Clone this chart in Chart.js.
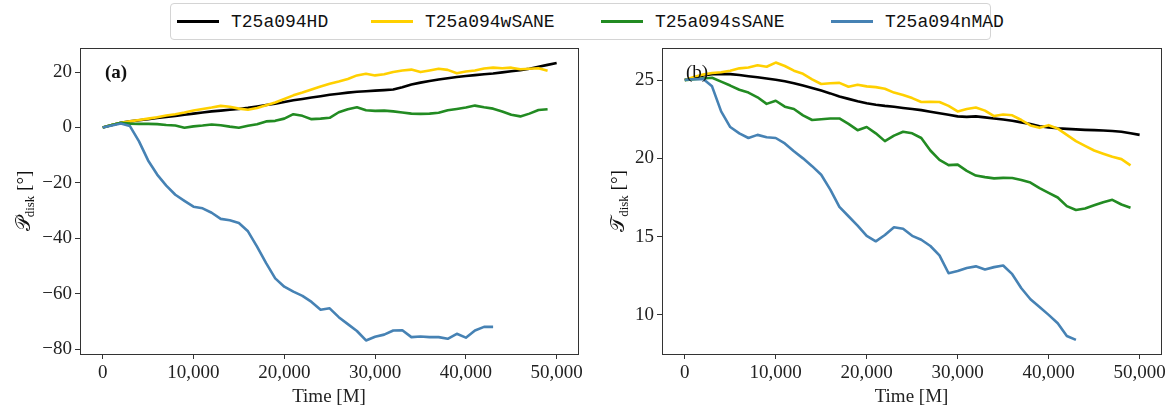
<!DOCTYPE html>
<html>
<head>
<meta charset="utf-8">
<script src="https://cdn.jsdelivr.net/npm/chart.js@4.4.1/dist/chart.umd.min.js"></script>
<style>
  html, body { margin: 0; padding: 0; background: #fff; }
  #wrap { position: relative; width: 1168px; height: 410px; overflow: hidden; }
  #wrap canvas { position: absolute; }
  #legend {
    position: absolute; left: 170px; top: 3px; width: 821px; height: 37px;
    border: 1px solid #d4d4d4; border-radius: 4px; box-sizing: border-box;
    font-family: "Liberation Mono", monospace; font-size: 18px; color: #111;
  }
  .item { position: absolute; top: 0; height: 100%; display: flex; align-items: center; }
  .swatch { width: 42px; height: 3px; margin-right: 12px; }
</style>
</head>
<body>
<div id="wrap">
  <div id="legend"></div>
  <canvas id="panelA" style="left:0;top:44px" width="584" height="366"></canvas>
  <canvas id="panelB" style="left:584px;top:44px" width="584" height="366"></canvas>
</div>
<script>
// time samples [M]
const timeM = [0, 1000, 2000, 3000, 4000, 5000, 6000, 7000, 8000, 9000,
  10000, 11000, 12000, 13000, 14000, 15000, 16000, 17000, 18000, 19000,
  20000, 21000, 22000, 23000, 24000, 25000, 26000, 27000, 28000, 29000,
  30000, 31000, 32000, 33000, 34000, 35000, 36000, 37000, 38000, 39000,
  40000, 41000, 42000, 43000, 44000, 45000, 46000, 47000, 48000, 49000, 50000];

const seriesNames = ['T25a094HD', 'T25a094wSANE', 'T25a094sSANE', 'T25a094nMAD'];
const seriesColors = ['#000000', '#ffd000', '#228b22', '#4682b4'];

// precession angle P_disk [deg]
const pHD = [0, 0.9, 1.7, 2.2, 2.6, 3.0, 3.4, 3.8, 4.2, 4.6,
  5.0, 5.4, 5.8, 6.1, 6.4, 6.7, 7.1, 7.6, 8.1, 8.6,
  9.2, 9.8, 10.3, 10.8, 11.3, 11.8, 12.2, 12.6, 12.9, 13.1,
  13.3, 13.5, 13.7, 14.5, 15.5, 16.2, 16.8, 17.3, 17.8, 18.2,
  18.6, 18.9, 19.2, 19.5, 19.9, 20.3, 20.7, 21.2, 21.9, 22.6, 23.3];
const pWSANE = [0, 0.9, 1.7, 2.2, 2.7, 3.2, 3.7, 4.3, 4.8, 5.4,
  6.1, 6.7, 7.2, 7.8, 7.5, 6.8, 6.4, 7.0, 8.0, 9.0,
  10.3, 11.6, 12.6, 13.7, 14.8, 15.8, 16.6, 17.5, 18.8, 19.4,
  18.8, 19.2, 20.0, 20.6, 20.9, 20.0, 20.6, 21.2, 20.8, 19.6,
  20.2, 20.6, 21.3, 21.6, 21.4, 21.6, 21.0, 21.2, 21.4, 20.5, null];
const pSSANE = [0, 0.9, 1.7, 1.4, 1.3, 1.3, 1.2, 0.9, 0.7, -0.1,
  0.4, 0.7, 1.1, 0.8, 0.3, -0.1, 0.6, 1.2, 2.2, 2.4,
  3.2, 4.8, 4.2, 3.0, 3.2, 3.5, 5.5, 6.6, 7.3, 6.2,
  6.0, 6.1, 5.8, 5.4, 5.0, 4.9, 5.0, 5.3, 6.2, 6.7,
  7.2, 7.9, 7.3, 6.8, 5.8, 4.6, 4.0, 5.0, 6.3, 6.6, null];
const pNMAD = [0, 0.7, 1.4, 0.5, -5.0, -11.9, -17.0, -21.0, -24.3, -26.5,
  -28.6, -29.2, -30.8, -33.0, -33.5, -34.5, -37.5, -43.0, -49.0, -54.5,
  -57.5, -59.3, -60.8, -63.0, -65.8, -65.3, -68.5, -71.0, -73.5, -76.9,
  -75.6, -74.8, -73.3, -73.2, -75.7, -75.5, -75.7, -75.7, -76.3, -74.5,
  -75.9, -73.3, -72.0, -72.0, null, null, null, null, null, null, null];

// tilt angle T_disk [deg]
const tHD = [25.0, 25.15, 25.3, 25.38, 25.4, 25.38, 25.33, 25.25, 25.18, 25.1,
  25.02, 24.92, 24.8, 24.65, 24.5, 24.33, 24.15, 23.95, 23.8, 23.65,
  23.52, 23.42, 23.35, 23.3, 23.22, 23.15, 23.08, 22.98, 22.88, 22.78,
  22.68, 22.65, 22.68, 22.62, 22.55, 22.48, 22.4, 22.3, 22.2, 22.05,
  21.98, 21.92, 21.88, 21.85, 21.82, 21.8, 21.78, 21.75, 21.7, 21.6, 21.5];
const tWSANE = [25.0, 25.2, 25.35, 25.45, 25.5, 25.6, 25.75, 25.8, 25.95, 25.85,
  26.12, 25.9, 25.6, 25.4, 25.05, 24.75, 24.8, 24.82, 24.57, 24.7,
  24.6, 24.55, 24.45, 24.2, 24.05, 23.85, 23.6, 23.62, 23.6, 23.35,
  23.0, 23.15, 23.25, 23.05, 22.7, 22.8, 22.75, 22.45, 22.1, 21.95,
  22.12, 21.9, 21.5, 21.1, 20.8, 20.5, 20.3, 20.1, 19.95, 19.55, null];
const tSSANE = [25.0, 25.05, 25.1, 25.15, 24.9, 24.65, 24.38, 24.2, 23.9, 23.48,
  23.68, 23.3, 23.15, 22.75, 22.45, 22.5, 22.55, 22.55, 22.2, 21.8,
  22.0, 21.6, 21.1, 21.45, 21.7, 21.6, 21.3, 20.5, 19.9, 19.57,
  19.6, 19.2, 18.9, 18.8, 18.72, 18.75, 18.74, 18.62, 18.45, 18.1,
  17.8, 17.5, 16.95, 16.7, 16.8, 17.0, 17.2, 17.35, 17.05, 16.85, null];
const tNMAD = [25.02, 25.05, 25.08, 24.6, 23.0, 22.0, 21.6, 21.3, 21.5, 21.35,
  21.3, 20.95, 20.45, 20.0, 19.5, 18.95, 18.0, 16.9, 16.3, 15.7,
  15.05, 14.7, 15.1, 15.6, 15.5, 15.05, 14.8, 14.4, 13.8, 12.66,
  12.8, 13.0, 13.1, 12.9, 13.05, 13.15, 12.6, 11.7, 11.0, 10.5,
  10.0, 9.46, 8.65, 8.4, null, null, null, null, null, null, null];

const xTicks = [0, 10000, 20000, 30000, 40000, 50000];
const pTicks = [-80, -60, -40, -20, 0, 20];
const tTicks = [10, 15, 20, 25];

const serif = '"Liberation Serif", "DejaVu Serif", serif';
const inkColor = '#222';

// shared legend above both panels
const legendEl = document.getElementById('legend');
const legendLeft = [6, 200, 430, 660];
seriesNames.forEach((name, i) => {
  const item = document.createElement('div');
  item.className = 'item';
  item.style.left = legendLeft[i] + 'px';
  item.innerHTML = '<span class="swatch" style="background:' + seriesColors[i] + '"></span><span>' + name + '</span>';
  legendEl.appendChild(item);
});

// frame, panel tag and y-axis title with subscript
const decorPlugin = {
  id: 'decor',
  afterDatasetsDraw(chart, args, opts) {
    const { ctx, chartArea: a } = chart;
    ctx.save();
    ctx.strokeStyle = '#333';
    ctx.lineWidth = 1;
    ctx.strokeRect(Math.round(a.left) + 0.5, Math.round(a.top) + 0.5,
      Math.round(a.right - a.left), Math.round(a.bottom - a.top));

    ctx.fillStyle = '#111';
    ctx.textBaseline = 'middle';
    ctx.textAlign = 'left';
    ctx.font = (opts.tagBold ? 'bold ' : '') + '19px ' + serif;
    ctx.fillText(opts.tag, a.left + opts.tagDx, a.top + opts.tagDy);

    const mainFont = '20px ' + serif;
    const subFont = '13px ' + serif;
    const tailFont = '19px ' + serif;
    ctx.font = mainFont; const w1 = ctx.measureText(opts.letter).width;
    ctx.font = subFont; const w2 = ctx.measureText('disk').width;
    ctx.font = tailFont; const w3 = ctx.measureText(' [°]').width;
    const total = w1 + w2 + w3;
    ctx.translate(opts.titleX, (a.top + a.bottom) / 2);
    ctx.rotate(-Math.PI / 2);
    ctx.textBaseline = 'alphabetic';
    let x = -total / 2;
    ctx.font = mainFont; ctx.fillText(opts.letter, x, 6); x += w1;
    ctx.font = subFont; ctx.fillText('disk', x, 10); x += w2;
    ctx.font = tailFont; ctx.fillText(' [°]', x, 6);
    ctx.restore();
  }
};

function buildDatasets(seriesList) {
  return seriesList.map((vals, i) => ({
    label: seriesNames[i],
    data: timeM.map((t, k) => ({ x: t, y: vals[k] })).filter(p => p.y !== null),
    borderColor: seriesColors[i],
    backgroundColor: seriesColors[i],
    borderWidth: 2.6,
    pointRadius: 0,
    tension: 0,
    borderJoinStyle: 'round',
    order: seriesList.length - 1 - i
  }));
}

function makePanel(id, seriesList, yMin, yMax, yTicks, yWidth, padRight, decor) {
  const tickFont = { family: serif, size: 19 };
  return new Chart(document.getElementById(id), {
    type: 'line',
    data: { datasets: buildDatasets(seriesList) },
    options: {
      responsive: false,
      animation: false,
      layout: { padding: { top: 4, right: padRight, bottom: 0, left: 0 } },
      plugins: { legend: { display: false }, tooltip: { enabled: false }, decor: decor },
      scales: {
        x: {
          type: 'linear', min: -2500, max: 52350,
          afterBuildTicks: s => { s.ticks = xTicks.map(v => ({ value: v })); },
          afterFit: s => { s.height = 56; s.paddingLeft = 0; s.paddingRight = 0; },
          grid: { display: true, drawOnChartArea: false, drawTicks: true, tickLength: 5, tickWidth: 1, tickColor: '#333' },
          border: { display: false },
          ticks: { color: inkColor, font: tickFont, padding: 3, maxRotation: 0, autoSkip: false,
            callback: v => v.toLocaleString('en-US') },
          title: { display: true, text: 'Time [M]', color: inkColor, font: tickFont, padding: { top: 0, bottom: 2 } }
        },
        y: {
          type: 'linear', min: yMin, max: yMax,
          afterBuildTicks: s => { s.ticks = yTicks.map(v => ({ value: v })); },
          afterFit: s => { s.width = yWidth; s.paddingTop = 0; s.paddingBottom = 0; },
          grid: { display: true, drawOnChartArea: false, drawTicks: true, tickLength: 5, tickWidth: 1, tickColor: '#333' },
          border: { display: false },
          ticks: { color: inkColor, font: tickFont, padding: 3, autoSkip: false,
            callback: v => String(v).replace('-', '\u2212') }
        }
      }
    },
    plugins: [decorPlugin]
  });
}

makePanel('panelA', [pHD, pWSANE, pSSANE, pNMAD], -81.8, 28.7, pTicks, 80, 6,
  { tag: '(a)', tagBold: true, tagDx: 25, tagDy: 25, letter: '𝒫', titleX: 24 });
makePanel('panelB', [tHD, tWSANE, tSSANE, tNMAD], 7.5, 27.05, tTicks, 78, 7,
  { tag: '(b)', tagBold: false, tagDx: 24, tagDy: 25, letter: '𝒯', titleX: 34 });
</script>
</body>
</html>
